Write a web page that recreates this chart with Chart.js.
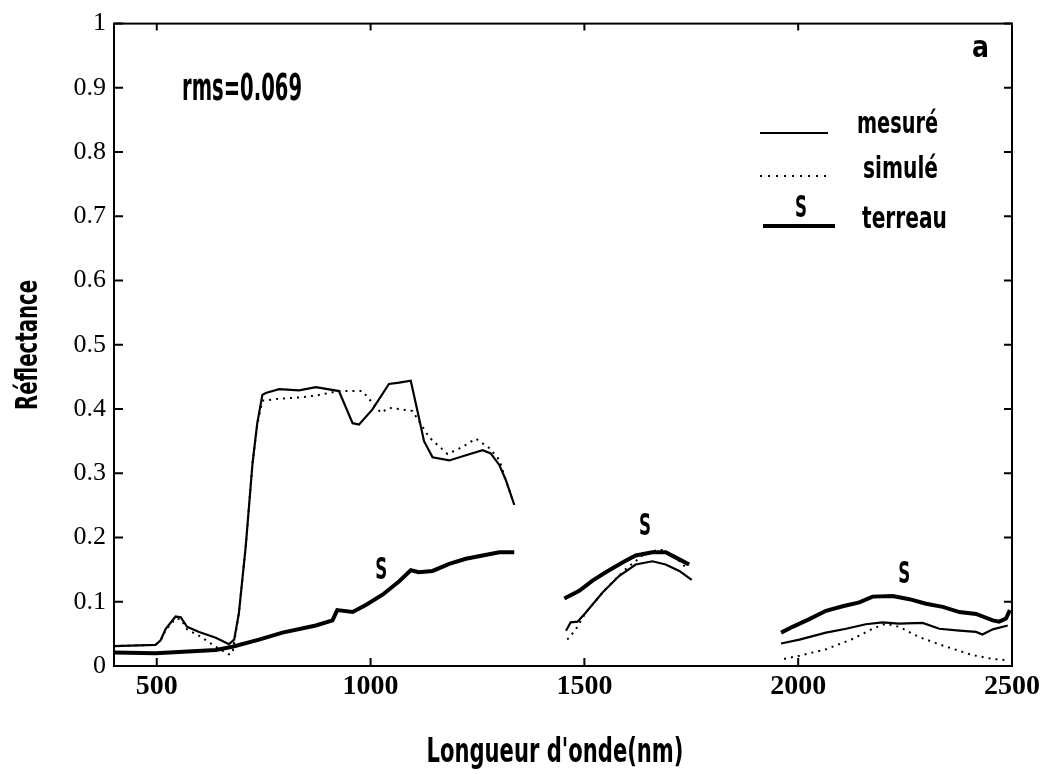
<!DOCTYPE html>
<html>
<head>
<meta charset="utf-8">
<title>Réflectance</title>
<script src="https://cdn.jsdelivr.net/npm/chart.js@4.4.0/dist/chart.umd.min.js"></script>
<style>
  html, body { margin: 0; padding: 0; background: #fff; }
  #wrap { width: 1045px; height: 774px; }
</style>
</head>
<body>
<div id="wrap"><canvas id="reflChart" width="1045" height="774"></canvas></div>
<script>
// wavelength ticks (nm)
const xTicks = [500, 1000, 1500, 2000, 2500];

// mesuré (thin solid) - null marks the water absorption gaps
const measuredNm = [400, 497, 509, 521, 544, 556, 571, 599, 638, 669, 681, 692, 708, 724, 735, 747, 755, 786, 833, 872,
  926, 958, 973, 1004, 1043, 1067, 1094, 1113, 1125, 1145, 1184, 1223, 1262, 1281, 1301, 1316, 1336,
  1400, 1457, 1468, 1484, 1503, 1542, 1581, 1620, 1659, 1690, 1722, 1751,
  1850, 1960, 2003, 2065, 2112, 2158, 2197, 2236, 2291, 2330, 2377, 2416, 2431, 2455, 2490];
const measuredR = [0.031, 0.033, 0.040, 0.058, 0.077, 0.076, 0.061, 0.053, 0.044, 0.034, 0.041, 0.082, 0.186, 0.316, 0.378, 0.422, 0.425, 0.431, 0.429, 0.434,
  0.428, 0.378, 0.376, 0.399, 0.439, 0.441, 0.444, 0.387, 0.350, 0.325, 0.320, 0.328, 0.336, 0.331, 0.313, 0.290, 0.251,
  null, 0.055, 0.068, 0.069, 0.083, 0.114, 0.140, 0.158, 0.163, 0.158, 0.148, 0.134,
  null, 0.035, 0.041, 0.052, 0.058, 0.065, 0.068, 0.066, 0.067, 0.058, 0.055, 0.053, 0.049, 0.057, 0.063];

// simulé (dotted)
const simulatedNm = [400, 497, 509, 521, 544, 556, 571, 599, 638, 669, 677, 692, 708, 724, 735, 747, 786, 833, 872, 926,
  981, 1024, 1043, 1098, 1137, 1180, 1215, 1246, 1278, 1301, 1316, 1336,
  1400, 1460, 1480, 1503, 1550, 1597, 1636, 1675, 1706, 1741,
  1850, 1967, 2003, 2065, 2127, 2174, 2205, 2236, 2283, 2346, 2408, 2455, 2490];
const simulatedR = [0.031, 0.033, 0.040, 0.056, 0.074, 0.073, 0.057, 0.047, 0.030, 0.018, 0.020, 0.082, 0.186, 0.316, 0.375, 0.413, 0.416, 0.418, 0.421, 0.428,
  0.428, 0.394, 0.402, 0.397, 0.356, 0.330, 0.341, 0.354, 0.339, 0.321, 0.290, 0.251,
  null, 0.041, 0.057, 0.083, 0.120, 0.151, 0.172, 0.182, 0.174, 0.151,
  null, 0.011, 0.016, 0.026, 0.042, 0.058, 0.066, 0.061, 0.045, 0.030, 0.017, 0.011, 0.009];

// terreau (soil, thick)
const terreauNm = [400, 497, 638, 677, 739, 794, 872, 911, 922, 958, 989, 1028, 1067, 1094, 1113, 1145, 1184, 1223, 1262, 1301, 1336,
  1400, 1453, 1488, 1519, 1550, 1589, 1620, 1659, 1690, 1722, 1745,
  1850, 1960, 1987, 2026, 2065, 2104, 2143, 2174, 2221, 2260, 2299, 2338, 2377, 2416, 2455, 2470, 2486, 2495];
const terreauR = [0.021, 0.020, 0.025, 0.030, 0.041, 0.052, 0.063, 0.071, 0.087, 0.084, 0.095, 0.111, 0.132, 0.149, 0.146, 0.148, 0.159, 0.167, 0.172, 0.177, 0.177,
  null, 0.105, 0.117, 0.133, 0.146, 0.161, 0.172, 0.177, 0.177, 0.166, 0.158,
  null, 0.052, 0.061, 0.073, 0.086, 0.093, 0.099, 0.108, 0.109, 0.104, 0.097, 0.092, 0.084, 0.081, 0.071, 0.069, 0.074, 0.087];

// "S" marks over the soil curve
const soilMarkNm = [1025, 1642, 2248];
const soilMarkR = [0.153, 0.221, 0.147];

const rmsText = "rms=0.069";
const panelLetter = "a";
const legendLabels = ["mesuré", "simulé", "terreau"];

function toPoints(nm, r) {
  return nm.map((x, i) => ({ x: x, y: r[i] }));
}

// narrow bold text, squeezed to a given width
function narrowText(ctx, text, x, y, size, width, align) {
  ctx.save();
  ctx.font = 'bold ' + size + 'px "DejaVu Sans Condensed", "DejaVu Sans", sans-serif';
  const w = ctx.measureText(text).width;
  ctx.translate(x, y);
  ctx.scale(width / w, 1);
  ctx.textAlign = align || "left";
  ctx.textBaseline = "alphabetic";
  ctx.fillStyle = "#000";
  ctx.fillText(text, 0, 0);
  ctx.restore();
}

const frame = {
  id: "frame",
  afterDatasetsDraw(chart) {
    const ctx = chart.ctx;
    const a = chart.chartArea;
    const xs = chart.scales.x;
    const ys = chart.scales.y;
    ctx.save();
    ctx.strokeStyle = "#000";
    ctx.lineWidth = 2;
    ctx.strokeRect(a.left, a.top, a.right - a.left, a.bottom - a.top);
    // inward ticks on the four sides
    ctx.beginPath();
    xs.ticks.forEach((t) => {
      const px = xs.getPixelForValue(t.value);
      ctx.moveTo(px, a.bottom); ctx.lineTo(px, a.bottom - 8);
      ctx.moveTo(px, a.top); ctx.lineTo(px, a.top + 7);
    });
    ys.ticks.forEach((t) => {
      const py = ys.getPixelForValue(t.value);
      ctx.moveTo(a.left, py); ctx.lineTo(a.left + 9, py);
      ctx.moveTo(a.right, py); ctx.lineTo(a.right - 8, py);
    });
    ctx.stroke();

    // curve marks
    soilMarkNm.forEach((nm, i) => {
      narrowText(ctx, "S", xs.getPixelForValue(nm), ys.getPixelForValue(soilMarkR[i]) + 11, 30, 12, "center");
    });

    narrowText(ctx, rmsText, 182, 100, 38, 120, "left");
    narrowText(ctx, panelLetter, 972, 57, 30, 17, "left");

    // legend
    ctx.strokeStyle = "#000";
    ctx.lineWidth = 2;
    ctx.beginPath(); ctx.moveTo(760, 133); ctx.lineTo(828, 133); ctx.stroke();
    ctx.setLineDash([2, 6]);
    ctx.beginPath(); ctx.moveTo(760, 176); ctx.lineTo(828, 176); ctx.stroke();
    ctx.setLineDash([]);
    ctx.lineWidth = 4;
    ctx.beginPath(); ctx.moveTo(763, 226); ctx.lineTo(835, 226); ctx.stroke();
    narrowText(ctx, "S", 801, 217, 30, 12, "center");
    narrowText(ctx, legendLabels[0], 857, 133, 30, 81, "left");
    narrowText(ctx, legendLabels[1], 863, 178, 30, 75, "left");
    narrowText(ctx, legendLabels[2], 862, 228, 30, 85, "left");

    // axis titles
    narrowText(ctx, "Longueur d'onde(nm)", 555, 762, 34, 257, "center");
    ctx.save();
    ctx.translate(37, 345);
    ctx.rotate(-Math.PI / 2);
    narrowText(ctx, "Réflectance", 0, 0, 30, 130, "center");
    ctx.restore();
    ctx.restore();
  },
};

new Chart(document.getElementById("reflChart"), {
  type: "line",
  data: {
    datasets: [
      {
        label: legendLabels[0],
        data: toPoints(measuredNm, measuredR),
        borderColor: "#000",
        borderWidth: 2.2,
        pointRadius: 0,
        tension: 0,
        spanGaps: false,
      },
      {
        label: legendLabels[1],
        data: toPoints(simulatedNm, simulatedR),
        borderColor: "#000",
        borderWidth: 2,
        borderDash: [2, 5],
        pointRadius: 0,
        tension: 0,
        spanGaps: false,
      },
      {
        label: legendLabels[2],
        data: toPoints(terreauNm, terreauR),
        borderColor: "#000",
        borderWidth: 4,
        pointRadius: 0,
        tension: 0,
        spanGaps: false,
      },
    ],
  },
  options: {
    responsive: false,
    animation: false,
    layout: { padding: { top: 23, right: 33, left: 0, bottom: 0 } },
    plugins: {
      legend: { display: false },
      tooltip: { enabled: false },
    },
    scales: {
      x: {
        type: "linear",
        min: 400,
        max: 2500,
        afterBuildTicks: (s) => { s.ticks = xTicks.map((v) => ({ value: v })); },
        afterFit: (s) => { s.height = 108; },
        grid: { display: false, drawTicks: false },
        border: { display: false },
        ticks: {
          padding: 4,
          color: "#000",
          font: { family: '"Liberation Serif", "Times New Roman", serif', size: 28, weight: "bold" },
          callback: (v) => String(v),
        },
      },
      y: {
        min: 0,
        max: 1,
        afterFit: (s) => { s.width = 114; },
        grid: { display: false, drawTicks: false },
        border: { display: false },
        ticks: {
          stepSize: 0.1,
          padding: 8,
          color: "#000",
          font: { family: '"Liberation Serif", "Times New Roman", serif', size: 26 },
          callback: (v) => (v === 0 ? "0" : v === 1 ? "1" : v.toFixed(1)),
        },
      },
    },
  },
  plugins: [frame],
});
</script>
</body>
</html>
